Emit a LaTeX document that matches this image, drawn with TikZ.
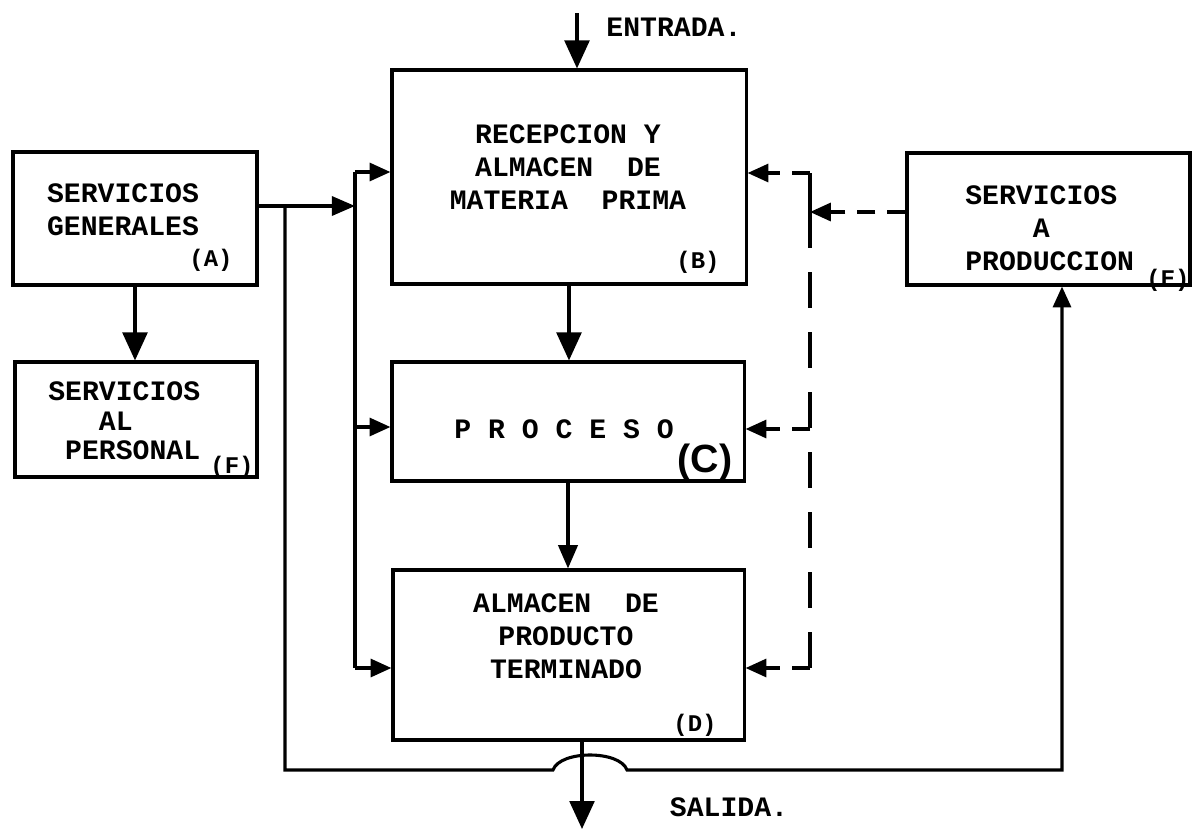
\documentclass[tikz,border=0pt]{standalone}
\usepackage{fontspec}
\setmonofont{Liberation Mono}
\newfontfamily\letrac{Liberation Sans}
\usepackage{tikz}
\usetikzlibrary{arrows.meta}

\tikzset{
  caja/.style={draw, line width=2.2pt, inner sep=0pt},
  texto/.style={font=\ttfamily\bfseries\fontsize{20}{23.5}\selectfont, align=center, inner sep=0pt},
  letra/.style={font=\ttfamily\bfseries\fontsize{17}{20}\selectfont, inner sep=0pt},
  linea/.style={line width=2.2pt},
  flecha/.style={linea, -{Triangle[length=0.58cm, width=0.48cm]}},
  flechag/.style={linea, -{Triangle[length=0.7cm, width=0.62cm]}},
  flechap/.style={linea, -{Triangle[length=0.52cm, width=0.45cm]}},
  discont/.style={linea, dash pattern=on 0.9cm off 0.6cm},
  flechad/.style={linea, dash pattern=on 0.45cm off 0.3cm, -{Triangle[length=0.52cm, width=0.45cm]}}
}

\begin{document}
\begin{tikzpicture}[x=0.025cm, y=-0.025cm]
  \useasboundingbox (0,0) rectangle (1193,829);

  % cajas
  \node[caja, minimum width=6.1cm, minimum height=3.325cm] (A) at (135,218.5) {};
  \node[caja, minimum width=6.05cm, minimum height=2.875cm] (F) at (136,419.5) {};
  \node[caja, minimum width=8.85cm, minimum height=5.35cm] (B) at (569,177) {};
  \node[caja, minimum width=8.8cm, minimum height=2.975cm] (C) at (568,421.5) {};
  \node[caja, minimum width=8.775cm, minimum height=4.25cm] (D) at (568.5,655) {};
  \node[caja, minimum width=7.075cm, minimum height=3.3cm] (E) at (1048.5,219) {};

  % textos
  \node[texto] (At) at (123,210) {SERVICIOS\\GENERALES};
  \node[letra] (Al) at (211,260) {(A)};
  \node[texto, align=left, anchor=west, font=\ttfamily\bfseries\fontsize{20}{21}\selectfont] (Ft) at (48,421) {SERVICIOS\\\hphantom{SER}AL\\\hphantom{S}PERSONAL};
  \node[letra] (Fl) at (232,467) {(F)};
  \node[texto] (Bt) at (568,167) {RECEPCION Y\\ALMACEN\ \ DE\\MATERIA\ \ PRIMA};
  \node[letra] (Bl) at (698,262) {(B)};
  \node[texto] (Ct) at (564,429) {P R O C E S O};
  \node[font=\letrac\bfseries\fontsize{28}{30}\selectfont, inner sep=0pt] (Cl) at (705,462) {(C)};
  \node[texto] (Dt) at (566,636) {ALMACEN\ \ DE\\PRODUCTO\\TERMINADO};
  \node[letra] (Dl) at (695,725) {(D)};
  \node[texto, align=left, anchor=west] (Et) at (965,228) {SERVICIOS\\\hphantom{SERV}A\\PRODUCCION};
  \node[letra] (El) at (1168,280) {(E)};
  \node[texto] (entrada) at (674,27) {ENTRADA.};
  \node[texto] (salida) at (729,807) {SALIDA.};

  % puntos de paso
  \coordinate (a1) at (257,206);
  \coordinate (bus1) at (355,172);
  \coordinate (bus2) at (355,427);
  \coordinate (bus3) at (355,668);
  \coordinate (r0) at (285,206);
  \coordinate (r1) at (285,770);
  \coordinate (r2) at (553,770);
  \coordinate (r3) at (627,770);
  \coordinate (r4) at (1062,770);
  \coordinate (ent) at (577,13);
  \coordinate (sal) at (582,829);
  \coordinate (J) at (810,212);
  \coordinate (J0) at (810,173);
  \coordinate (J2) at (810,429);
  \coordinate (J3) at (810,668);

  % flujo principal
  \draw[flechag] (ent) -- (ent |- B.north);
  \draw[flechag] (B.south) -- (B.south |- C.north);
  \draw[flecha] (C.south) -- (C.south |- D.north);
  \draw[flechag] (sal |- D.south) -- (sal);
  \draw[flechag] (A.south) -- (A.south |- F.north);

  % servicios generales
  \draw[flecha] (a1) -- (bus1 |- a1);
  \draw[linea] (bus1) -- (bus3);
  \draw[flechap] (bus1) -- (bus1 -| B.west);
  \draw[flechap] (bus2) -- (bus2 -| C.west);
  \draw[flechap] (bus3) -- (bus3 -| D.west);
  \draw[flechap] (r0) -- (r1) -- (r2) .. controls (560,750) and (620,750) .. (r3) -- (r4) -- (r4 |- E.south);

  % servicios a produccion
  \draw[flechad] (E.west |- J) -- (J);
  \draw[linea] (J) -- (J0);
  \draw[flechad] (J0) -- (J0 -| B.east);
  \draw[discont] (J) -- (J3);
  \draw[flechad] (J2) -- (J2 -| C.east);
  \draw[flechad] (J3) -- (J3 -| D.east);
\end{tikzpicture}
\end{document}
